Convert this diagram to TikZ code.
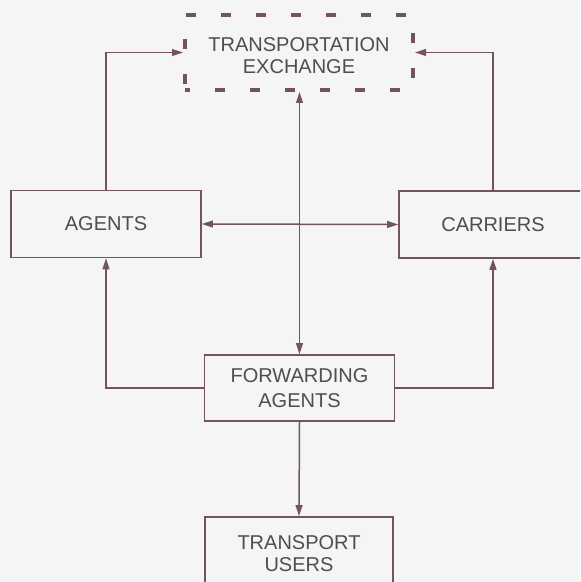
\documentclass[tikz,border=0pt]{standalone}
\usepackage{fontspec}
\setmainfont{Liberation Sans}
\usetikzlibrary{arrows.meta}

\definecolor{linecol}{HTML}{74525F}
\definecolor{textcol}{HTML}{4E4E4E}
\definecolor{paper}{HTML}{F5F4F6}

\tikzset{
  box/.style={draw=linecol, line width=0.8pt, rectangle, text=textcol, align=center,
    font=\fontsize{10}{11}\selectfont, minimum width=95pt, minimum height=33.5pt, inner sep=0pt},
  exchbox/.style={box, line width=2pt, dash pattern=on 5pt off 12.5pt, dash phase=2.5pt,
    minimum width=114pt, minimum height=37.5pt},
  conn/.style={draw=linecol, line width=0.75pt},
  >={Triangle[length=5.5pt,width=3.4pt]}
}

\begin{document}
\begin{tikzpicture}[x=0.5pt, y=-0.5pt]
\fill[paper] (0,0) rectangle (580,582);
\useasboundingbox (0,0) rectangle (580,582);
\clip (0,0) rectangle (580,582);

% boxes
\node[exchbox, text height=21.4pt] (exchange) at (299,52.5) {TRANSPORTATION\\EXCHANGE};
\node[box] (agents) at (106,224) {AGENTS};
\node[box, minimum width=94pt] (carriers) at (493,224.5) {CARRIERS};
\node[box, font=\fontsize{10}{12.5}\selectfont, minimum height=33pt] (forwarding) at (299.5,388) {FORWARDING\\AGENTS};
\node[box, minimum width=94pt, minimum height=37pt] (users) at (299,554) {TRANSPORT\\USERS};

% connectors
\draw[conn, ->] (agents.north) |- (exchange.west);
\draw[conn, ->] (carriers.north) |- (exchange.east);
\draw[conn, <->] (agents.east) -- (carriers.west);
\draw[conn, <->] (exchange.south -| forwarding.north) -- (forwarding.north);
\draw[conn, ->] (forwarding.west) -| (agents.south);
\draw[conn, ->] (forwarding.east) -| (carriers.south);
\draw[conn, ->] (forwarding.south) -- (users.north);
\end{tikzpicture}
\end{document}
